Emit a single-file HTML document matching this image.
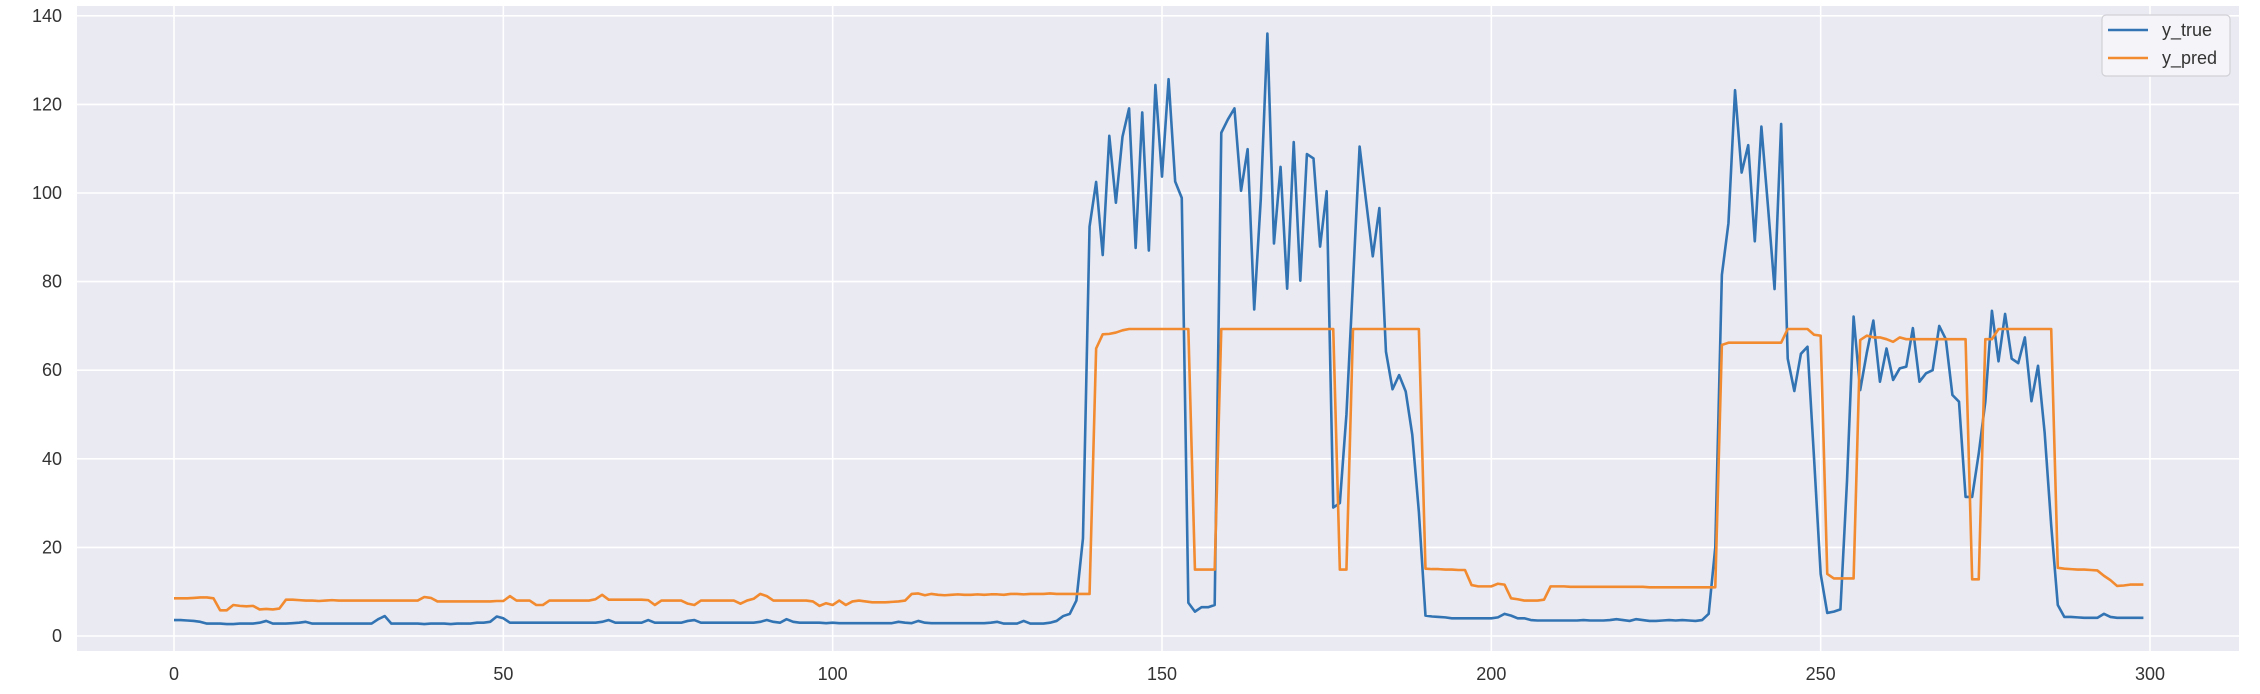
<!DOCTYPE html>
<html><head><meta charset="utf-8"><style>
html,body{margin:0;padding:0;background:#fff;}
svg{display:block;font-family:"Liberation Sans",sans-serif;}
</style></head><body>
<svg id="chart" width="2260" height="694" viewBox="0 0 2260 694" xmlns="http://www.w3.org/2000/svg">
<rect x="77" y="6" width="2162" height="645" fill="#EAEAF2"/>
<g id="grid"></g>
<g id="ticks"></g>
<g id="series"></g>
<g>
<rect x="2102" y="15" width="128" height="61" rx="4" fill="#F5F5F9" stroke="#D0D0D6" stroke-width="1.2"/>
<line x1="2108" y1="30" x2="2148" y2="30" stroke="#3274B3" stroke-width="2.6"/>
<text x="2162" y="36" font-size="18" fill="#333">y_true</text>
<line x1="2108" y1="58" x2="2148" y2="58" stroke="#F28A30" stroke-width="2.6"/>
<text x="2162" y="64" font-size="18" fill="#333">y_pred</text>
</g>
</svg>
<script>
const xTicks = [0,50,100,150,200,250,300];
const yTicks = [0,20,40,60,80,100,120,140];
const yTrue = [
3.6,3.6,3.5,3.4,3.2, 2.8,2.8,2.8,2.7,2.7, 2.8,2.8,2.8,3.0,3.4, 2.8,2.8,2.8,2.9,3.0,
3.2,2.8,2.8,2.8,2.8, 2.8,2.8,2.8,2.8,2.8, 2.8,3.8,4.5,2.8,2.8, 2.8,2.8,2.8,2.7,2.8,
2.8,2.8,2.7,2.8,2.8, 2.8,3.0,3.0,3.2,4.4, 4.0,3.0,3.0,3.0,3.0, 3.0,3.0,3.0,3.0,3.0,
3.0,3.0,3.0,3.0,3.0, 3.2,3.6,3.0,3.0,3.0, 3.0,3.0,3.6,3.0,3.0, 3.0,3.0,3.0,3.4,3.6,
3.0,3.0,3.0,3.0,3.0, 3.0,3.0,3.0,3.0,3.2, 3.6,3.2,3.0,3.8,3.2, 3.0,3.0,3.0,3.0,2.9,
3.0,2.9,2.9,2.9,2.9, 2.9,2.9,2.9,2.9,2.9, 3.2,3.0,2.9,3.4,3.0, 2.9,2.9,2.9,2.9,2.9,
2.9,2.9,2.9,2.9,3.0, 3.2,2.8,2.8,2.8,3.4, 2.8,2.8,2.8,3.0,3.4, 4.5,5.0,8.0,22,92.4,
102.5,86,112.9,97.8,112.7, 119.1,87.6,118.2,87,124.4, 103.7,125.7,102.6,98.9,7.5, 5.5,6.5,6.5,7,113.6,
116.6,119.1,100.5,109.9,73.7, 98.7,136,88.6,105.9,78.4, 111.5,80.2,108.8,107.8,87.9, 100.4,29,30,50,80,
110.5,98,85.7,96.6,64.2, 55.7,58.9,55.2,45.4,28, 4.6,4.4,4.3,4.2,4.0, 4.0,4.0,4.0,4.0,4.0,
4.0,4.2,5.0,4.6,4.0, 4.0,3.6,3.5,3.5,3.5, 3.5,3.5,3.5,3.5,3.6, 3.5,3.5,3.5,3.6,3.8,
3.6,3.4,3.8,3.6,3.4, 3.4,3.5,3.6,3.5,3.6, 3.5,3.4,3.6,5.0,20, 81.5,93.2,123.2,104.6,110.8,
89.1,115,97,78.3,115.6, 62.6,55.3,63.7,65.3,40, 14,5.2,5.5,6,35, 72.1,55.5,63.9,71.2,57.4,
64.9,57.8,60.4,60.8,69.5, 57.4,59.3,60,70,67, 54.4,52.9,31.4,31.4,41.2, 52.9,73.4,62,72.7,62.6,
61.6,67.4,53,61,46, 25,7,4.3,4.3,4.2, 4.1,4.1,4.1,5.0,4.3, 4.1,4.1,4.1,4.1,4.1
];
const yPred = [
8.5,8.5,8.5,8.6,8.7, 8.7,8.5,5.8,5.8,7.0, 6.8,6.7,6.8,6.0,6.1, 6.0,6.2,8.2,8.2,8.1,
8.0,8.0,7.9,8.0,8.1, 8.0,8.0,8.0,8.0,8.0, 8,8,8,8,8, 8,8,8,8.8,8.6,
7.8,7.8,7.8,7.8,7.8, 7.8,7.8,7.8,7.8,7.9, 7.9,9.0,8.0,8.0,8.0, 7.0,7.0,8.0,8.0,8.0,
8,8,8,8,8.3, 9.3,8.2,8.2,8.2,8.2, 8.2,8.2,8.1,7.0,8.0, 8.0,8.0,8.0,7.3,7.0,
8,8,8,8,8, 8,7.3,8,8.4,9.5, 9.0,8.0,8.0,8.0,8.0, 8.0,8.0,7.8,6.8,7.4,
7.0,8.0,7.0,7.8,8.0, 7.8,7.6,7.6,7.6,7.7, 7.8,8.0,9.5,9.6,9.2, 9.5,9.3,9.2,9.3,9.4,
9.3,9.3,9.4,9.3,9.4, 9.4,9.3,9.5,9.5,9.4, 9.5,9.5,9.5,9.6,9.5, 9.5,9.5,9.5,9.5,9.5,
64.9,68.1,68.2,68.5,69, 69.3,69.3,69.3,69.3,69.3, 69.3,69.3,69.3,69.3,69.3, 15,15,15,15,69.3,
69.3,69.3,69.3,69.3,69.3, 69.3,69.3,69.3,69.3,69.3, 69.3,69.3,69.3,69.3,69.3, 69.3,69.3,15,15,69.3,
69.3,69.3,69.3,69.3,69.3, 69.3,69.3,69.3,69.3,69.3, 15.2,15.1,15.1,15,15, 14.9,14.9,11.5,11.2,11.2,
11.2,11.8,11.6,8.5,8.3, 8.0,8.0,8.0,8.2,11.2, 11.2,11.2,11.1,11.1,11.1, 11.1,11.1,11.1,11.1,11.1,
11.1,11.1,11.1,11.1,11.0, 11.0,11.0,11.0,11.0,11.0, 11.0,11.0,11.0,11.0,11.0, 65.7,66.2,66.2,66.2,66.2,
66.2,66.2,66.2,66.2,66.2, 69.3,69.3,69.3,69.3,68, 67.8,14,13,13,13, 13,66.8,67.8,67.4,67.4,
67,66.4,67.4,67,67, 67,67,67,67,67, 67,67,67,12.8,12.8, 67,67,69.3,69.3,69.3,
69.3,69.3,69.3,69.3,69.3, 69.3,15.4,15.2,15.1,15, 15,14.9,14.8,13.6,12.6, 11.3,11.4,11.6,11.6,11.6
];
const NS = "http://www.w3.org/2000/svg";
const X0 = 174, XPX = (2150 - 174) / 300;
const Y0 = 636, YPX = 4.43;
function xs(i){ return X0 + i * XPX; }
function ys(v){ return Y0 - v * YPX; }
const grid = document.getElementById('grid');
const ticks = document.getElementById('ticks');
const series = document.getElementById('series');
function mk(tag, attrs, parent){
  const el = document.createElementNS(NS, tag);
  for (const k in attrs) el.setAttribute(k, attrs[k]);
  parent.appendChild(el);
  return el;
}
yTicks.forEach(function(t){
  const g = mk('line', {x1:77, x2:2239, y1:ys(t), y2:ys(t), stroke:'#fff', 'stroke-width':1.6}, grid);
  
  
  const tx = mk('text', {x:62, y:ys(t)+6, 'text-anchor':'end', 'font-size':18, fill:'#333'}, ticks);
  
  
  tx.textContent = t;
});
xTicks.forEach(function(t){
  const g = mk('line', {x1:xs(t), x2:xs(t), y1:6, y2:651, stroke:'#fff', 'stroke-width':1.6}, grid);
  
  
  const tx = mk('text', {x:xs(t), y:680, 'text-anchor':'middle', 'font-size':18, fill:'#333'}, ticks);
  
  
  tx.textContent = t;
});
function pathFor(arr){
  return arr.map(function(v,i){ return (i ? 'L' : 'M') + xs(i).toFixed(2) + ',' + ys(v).toFixed(2); }).join('');
}
const pT = mk('path', {d:pathFor(yTrue), fill:'none', stroke:'#3274B3', 'stroke-width':2.6, 'stroke-linejoin':'round'}, series);


const pP = mk('path', {d:pathFor(yPred), fill:'none', stroke:'#F28A30', 'stroke-width':2.6, 'stroke-linejoin':'round'}, series);


</script>
</body></html>
